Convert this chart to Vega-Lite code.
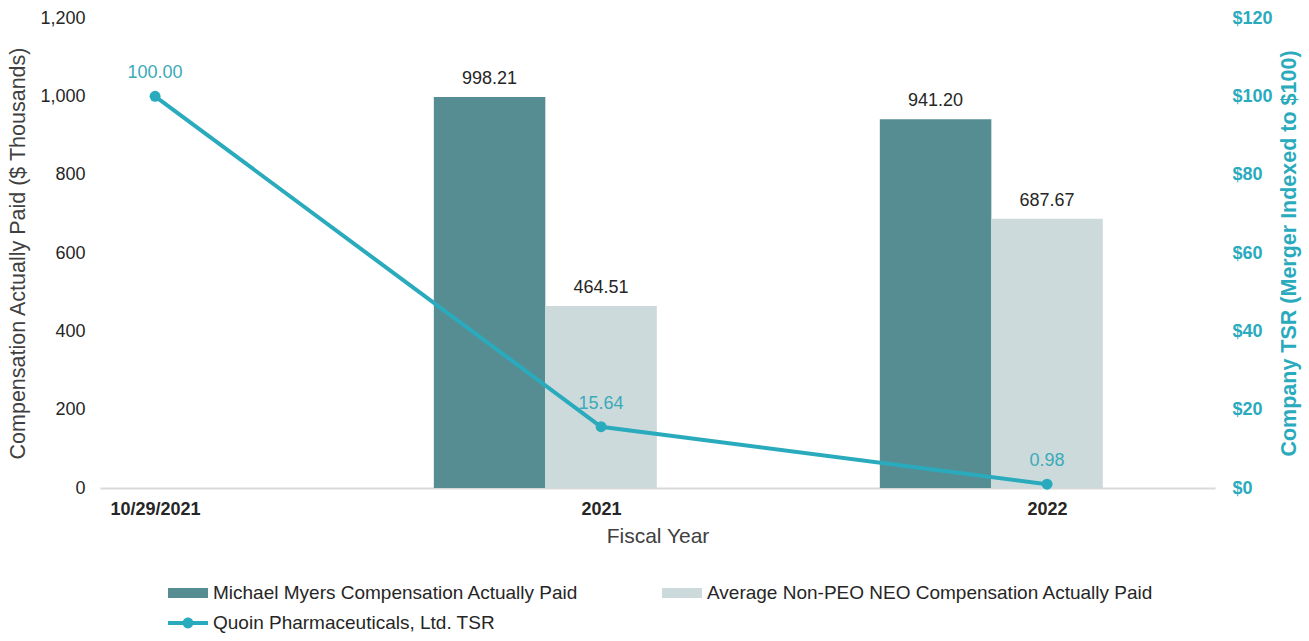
{
  "$schema": "https://vega.github.io/schema/vega-lite/v6.json",
  "width": 1115,
  "height": 470,
  "autosize": {"type": "none"},
  "padding": {"left": 100, "top": 18, "right": 94, "bottom": 153},
  "background": "white",
  "config": {
    "font": "Liberation Sans",
    "view": {"stroke": null},
    "axis": {"grid": false, "ticks": false, "labelFontSize": 18, "titleFontSize": 21.5, "labelColor": "#262626", "titleColor": "#404040", "titleFontWeight": "normal"}
  },
  "datasets": {
    "comp": [
      {"year": "2021", "series": "Michael Myers Compensation Actually Paid", "value": 998.21},
      {"year": "2021", "series": "Average Non-PEO NEO Compensation Actually Paid", "value": 464.51},
      {"year": "2022", "series": "Michael Myers Compensation Actually Paid", "value": 941.20},
      {"year": "2022", "series": "Average Non-PEO NEO Compensation Actually Paid", "value": 687.67}
    ],
    "tsr": [
      {"year": "10/29/2021", "series": "Quoin Pharmaceuticals, Ltd. TSR", "tsr": 100.00},
      {"year": "2021", "series": "Quoin Pharmaceuticals, Ltd. TSR", "tsr": 15.64},
      {"year": "2022", "series": "Quoin Pharmaceuticals, Ltd. TSR", "tsr": 0.98}
    ]
  },
  "layer": [
    {
      "data": {"name": "comp"},
      "encoding": {
        "x": {"field": "year", "type": "nominal", "axis": null,
              "scale": {"type": "band", "domain": ["2021", "2022"], "paddingInner": 0.25, "paddingOuter": 0.375, "align": 0.998}},
        "xOffset": {"field": "series", "type": "nominal",
              "scale": {"domain": ["Michael Myers Compensation Actually Paid", "Average Non-PEO NEO Compensation Actually Paid", "pad"], "paddingInner": 0, "paddingOuter": 0}},
        "y": {"field": "value", "type": "quantitative",
              "scale": {"domain": [0, 1200], "nice": false},
              "axis": {"title": "Compensation Actually Paid ($ Thousands)", "format": ",d", "values": [0, 200, 400, 600, 800, 1000, 1200], "domain": false, "labelPadding": 15, "titlePadding": 10}}
      },
      "layer": [
        {
          "mark": {"type": "bar"},
          "encoding": {
            "color": {"field": "series", "type": "nominal",
              "scale": {"domain": ["Michael Myers Compensation Actually Paid", "Average Non-PEO NEO Compensation Actually Paid", "Quoin Pharmaceuticals, Ltd. TSR"], "range": ["#568d93", "#ccdadc", "#2aabbd"]},
              "legend": {
                "title": null, "orient": "none", "legendX": 68, "legendY": 555, "direction": "horizontal", "columns": 2, "columnPadding": 83, "rowPadding": -11,
                "labelFontSize": 19, "labelColor": "#262626", "labelOffset": 5, "labelLimit": 0, "symbolSize": 1600,
                "symbolType": "M-1,-0.25H1V0.25H-1Z", "symbolStrokeWidth": 0,
                "encode": {"symbols": {"update": {
                  "shape": {"signal": "datum.value === 'Quoin Pharmaceuticals, Ltd. TSR' ? 'M-1,-0.1H1V0.1H-1Z M-0.27,0A0.27,0.27 0 1,1 0.27,0A0.27,0.27 0 1,1 -0.27,0Z' : 'M-1,-0.25H1V0.25H-1Z'"},
                  "fill": {"scale": "color", "field": "value"},
                  "stroke": {"value": "transparent"},
                  "strokeWidth": {"value": 0},
                  "opacity": {"value": 1}
                }}}
              }}
          }
        },
        {
          "mark": {"type": "text", "baseline": "bottom", "dy": -9, "fontSize": 18, "color": "#262626"},
          "encoding": {"text": {"field": "value", "type": "quantitative", "format": ",.2f"}}
        }
      ]
    },
    {
      "data": {"name": "tsr"},
      "encoding": {
        "x": {"field": "year", "type": "nominal", "sort": ["10/29/2021", "2021", "2022"],
              "scale": {"type": "point", "domain": ["10/29/2021", "2021", "2022"], "padding": 0.25, "align": 0.247},
              "axis": {"title": "Fiscal Year", "titleFontSize": 21, "labelAngle": 0, "labelFontWeight": "bold", "labelPadding": 12, "titlePadding": 7, "domainColor": "#d9d9d9", "domainWidth": 2}},
        "y": {"field": "tsr", "type": "quantitative",
              "scale": {"domain": [0, 120], "nice": false},
              "axis": {"orient": "right", "title": "Company TSR (Merger Indexed to $100)", "format": "$d", "values": [0, 20, 40, 60, 80, 100, 120], "domain": false, "labelPadding": 17, "titlePadding": 28, "titleAngle": 270, "labelColor": "#2aabbd", "labelFontWeight": "bold", "titleColor": "#2aabbd", "titleFontWeight": "bold"}}
      },
      "layer": [
        {
          "mark": {"type": "line", "strokeWidth": 4},
          "encoding": {"color": {"field": "series", "type": "nominal"}}
        },
        {
          "mark": {"type": "point", "filled": true, "size": 120, "opacity": 1},
          "encoding": {"color": {"field": "series", "type": "nominal"}}
        },
        {
          "mark": {"type": "text", "baseline": "bottom", "dy": -14, "fontSize": 18, "color": "#3aaab9"},
          "encoding": {"text": {"field": "tsr", "type": "quantitative", "format": ".2f"}}
        }
      ]
    }
  ],
  "resolve": {"scale": {"x": "independent", "y": "independent", "color": "shared"}}
}
